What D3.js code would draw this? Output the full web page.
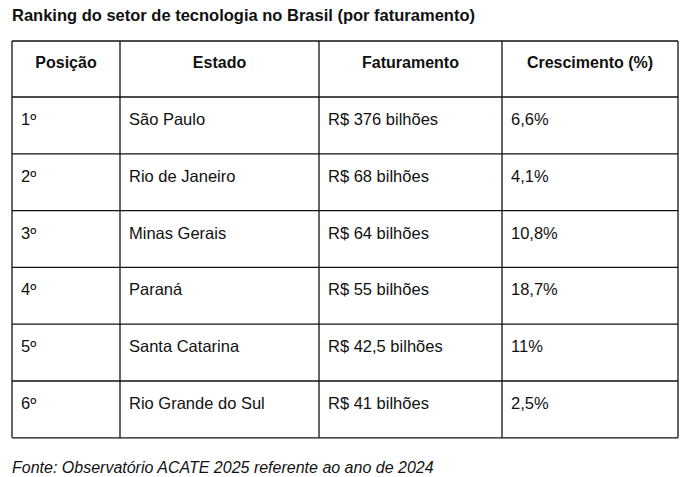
<!DOCTYPE html>
<html><head><meta charset="utf-8">
<script src="https://cdn.jsdelivr.net/npm/d3@7"></script>
<style>body{margin:0;background:#fff}</style>
</head><body>
<script>
const headers = ["Posição", "Estado", "Faturamento", "Crescimento (%)"]
const posicoes = ["1º", "2º", "3º", "4º", "5º", "6º"]
const estados = ["São Paulo", "Rio de Janeiro", "Minas Gerais", "Paraná", "Santa Catarina", "Rio Grande do Sul"]
const faturamento = ["R$ 376 bilhões", "R$ 68 bilhões", "R$ 64 bilhões", "R$ 55 bilhões", "R$ 42,5 bilhões", "R$ 41 bilhões"]
const crescimento = ["6,6%", "4,1%", "10,8%", "18,7%", "11%", "2,5%"]

const colEdges = [12, 120, 319, 502, 678]
const tableTop = 41, headH = 56, rowH = 56.8
const font = "Arial, 'Liberation Sans', sans-serif"

const svg = d3.select("body").append("svg").attr("width", 691).attr("height", 477)

svg.append("text").attr("x", 12).attr("y", 21)
  .attr("font-family", font).attr("font-size", 16.5).attr("font-weight", "bold")
  .attr("fill", "#111").text("Ranking do setor de tecnologia no Brasil (por faturamento)")

const rows = posicoes.map((p, i) => [p, estados[i], faturamento[i], crescimento[i]])
const y = d3.scaleLinear().domain([0, 1]).range([tableTop + headH, tableTop + headH + rowH])
const bottom = y(rows.length)

const g = svg.append("g").attr("stroke", "#111").attr("stroke-width", 1.3)
colEdges.forEach(x => g.append("line").attr("x1", x).attr("x2", x).attr("y1", tableTop).attr("y2", bottom))
g.append("line").attr("x1", colEdges[0]).attr("x2", colEdges[4]).attr("y1", tableTop).attr("y2", tableTop)
d3.range(rows.length + 1).forEach(i =>
  g.append("line").attr("x1", colEdges[0]).attr("x2", colEdges[4]).attr("y1", y(i)).attr("y2", y(i)))

headers.forEach((h, j) => {
  svg.append("text").attr("x", (colEdges[j] + colEdges[j + 1]) / 2).attr("y", tableTop + 27)
    .attr("text-anchor", "middle").attr("font-family", font).attr("font-size", 16)
    .attr("font-weight", "bold").attr("fill", "#111").text(h)
})

rows.forEach((r, i) => r.forEach((v, j) => {
  svg.append("text").attr("x", colEdges[j] + 9).attr("y", y(i) + 28)
    .attr("font-family", font).attr("font-size", 16.5).attr("fill", "#111").text(v)
}))

svg.append("text").attr("x", 12).attr("y", 473)
  .attr("font-family", font).attr("font-size", 16).attr("font-style", "italic")
  .attr("fill", "#111").text("Fonte: Observatório ACATE 2025 referente ao ano de 2024")
</script>
</body></html>
